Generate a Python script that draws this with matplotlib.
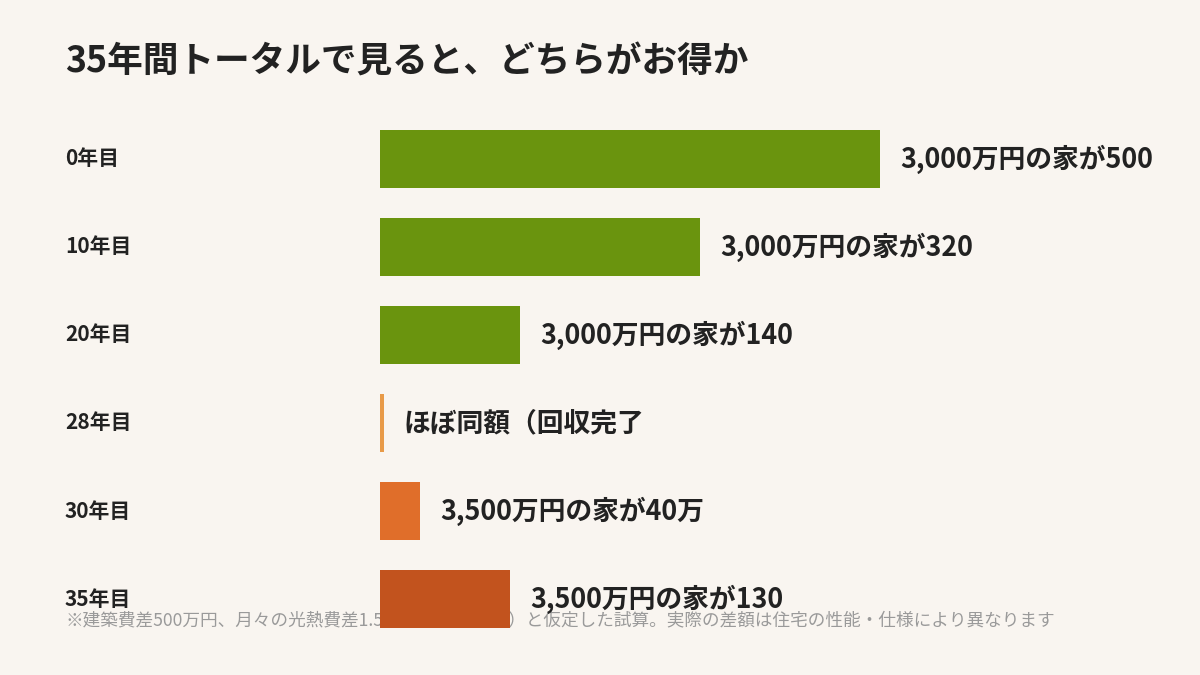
#!/usr/bin/env python3
"""
35-year total cost comparison chart (horizontal bars).
"""

import matplotlib
matplotlib.use("Agg")
import matplotlib.pyplot as plt
from matplotlib.transforms import blended_transform_factory

plt.rcParams["font.family"] = ["Noto Sans CJK JP", "DejaVu Sans"]

# data
categories = ["0年目", "10年目", "20年目", "28年目", "30年目", "35年目"]
values = [500, 320, 140, 0, 40, 130]
labels = [
    "3,000万円の家が500",
    "3,000万円の家が320",
    "3,000万円の家が140",
    "ほぼ同額（回収完了",
    "3,500万円の家が40万",
    "3,500万円の家が130",
]
colors = ["#6a940e", "#6a940e", "#6a940e", "#e89a48", "#e06e2a", "#c2531e"]

title = "35年間トータルで見ると、どちらがお得か"
footnote = "※建築費差500万円、月々の光熱費差1.5万円（年18万円）と仮定した試算。実際の差額は住宅の性能・仕様により異なります"

BG = "#f9f5f0"
W, H, DPI = 1200, 675, 100

fig = plt.figure(figsize=(W / DPI, H / DPI), dpi=DPI, facecolor=BG)

# axes: 1 data unit = 1 pixel horizontally, one row per category
left, right = 380, 1200
top, bottom = 115, 643
ax = fig.add_axes([left / W, 1 - bottom / H, (right - left) / W, (bottom - top) / H])
ax.set_facecolor("none")
ax.set_xlim(0, right - left)
ax.set_ylim(len(categories) - 0.5, -0.5)
ax.axis("off")

rows = range(len(categories))
widths = [max(v, 4) for v in values]  # keep a thin sliver visible for ~0
ax.barh(rows, widths, height=0.66, color=colors, zorder=2)

for i, (w, lab) in enumerate(zip(widths, labels)):
    ax.text(w + 20, i, lab, va="center", ha="left", fontsize=19.3,
            fontweight="bold", color="#222222", zorder=3)

# row labels on the left edge of the figure
trans = blended_transform_factory(fig.transFigure, ax.transData)
for i, cat in enumerate(categories):
    ax.text(65 / W, i, cat, transform=trans, va="center", ha="left",
            fontsize=15, fontweight="bold", color="#222222")

fig.text(65 / W, 1 - 62 / H, title, va="center", ha="left", fontsize=25.7,
         fontweight="bold", color="#222222")

# footnote sits behind the last bar
fig.text(65 / W, 1 - 620 / H, footnote, va="center", ha="left", fontsize=12.7,
         color="#9a9a9a", zorder=-1)

fig.savefig("out.png", dpi=DPI, facecolor=BG)
plt.close(fig)
